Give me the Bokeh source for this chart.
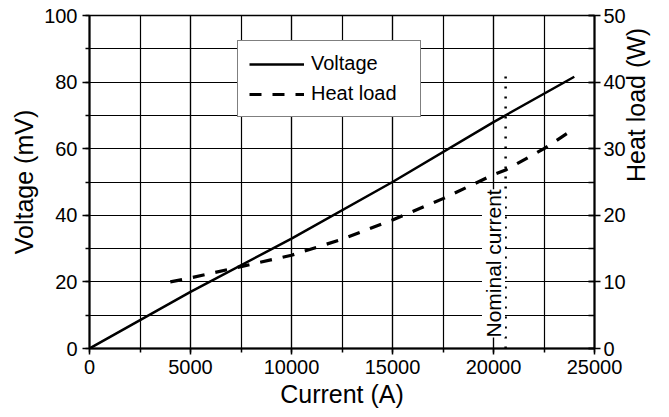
import math
from bokeh.plotting import figure
from bokeh.models import (Range1d, LinearAxis, SingleIntervalTicker, Legend,
                          LegendItem, Label, ColumnDataSource)
from bokeh.embed import file_html
from bokeh.resources import INLINE

# ---- data ----
voltage_current = [0, 5000, 10000, 15000, 20000, 24000]          # A
voltage_mv = [0, 17, 33, 50, 68, 81.6]                             # mV

heat_current = [4000, 5000, 7500, 10000, 12500, 15000, 17500, 20000, 20600, 22500, 23700]  # A
heat_load_w = [10.0, 10.6, 12.3, 14.0, 16.4, 19.3, 22.5, 26.1, 26.8, 30.0, 32.4]        # W

nominal_current = 20600      # A
nominal_marker_top = 84      # mV (top end of the dotted marker)
nominal_text = "Nominal current"
nominal_text_x = 20000
nominal_text_y = 3.3

x_ticks_interval = 5000
y_left_interval = 20
y_right_interval = 10

FONT = "Liberation Sans"

p = figure(width=669, height=417, output_backend="svg", toolbar_location=None,
           x_range=Range1d(0, 25000), y_range=Range1d(0, 100),
           min_border_left=89, min_border_right=75, min_border_top=15,
           min_border_bottom=69)
p.background_fill_color = "white"
p.border_fill_color = "white"
p.outline_line_color = "black"
p.outline_line_width = 1.5

p.extra_y_ranges = {"heat": Range1d(0, 50)}

xt = SingleIntervalTicker(interval=x_ticks_interval, num_minor_ticks=2)
yt = SingleIntervalTicker(interval=y_left_interval, num_minor_ticks=2)
yrt = SingleIntervalTicker(interval=y_right_interval, num_minor_ticks=2)

xaxis = p.xaxis[0]
laxis = p.yaxis[0]
xaxis.ticker = xt
laxis.ticker = yt
p.xgrid.ticker = xt
p.ygrid.ticker = yt

for g in (p.xgrid, p.ygrid):
    g.grid_line_color = "black"
    g.grid_line_width = 1.2
    g.minor_grid_line_color = "black"
    g.minor_grid_line_width = 1.2

right = LinearAxis(y_range_name="heat", ticker=yrt, axis_label="Heat load (W)")
p.add_layout(right, "right")
try:
    right.axis_label_orientation = math.pi / 2
except Exception:
    pass

for ax in (xaxis, laxis, right):
    ax.axis_line_color = "black"
    ax.axis_line_width = 2
    ax.major_tick_line_color = "black"
    ax.minor_tick_line_color = "black"
    ax.major_tick_line_width = 1.5
    ax.minor_tick_line_width = 1.5
    ax.major_label_text_font = FONT
    ax.major_label_text_font_size = "20px"
    ax.major_label_text_color = "black"
    ax.axis_label_text_font = FONT
    ax.axis_label_text_font_size = "25px"
    ax.axis_label_text_font_style = "normal"
    ax.axis_label_text_color = "black"
    ax.major_tick_in = 0
    ax.minor_tick_in = 0

xaxis.axis_label = "Current (A)"
laxis.axis_label = "Voltage (mV)"

xaxis.major_tick_out = 6
xaxis.minor_tick_out = 4
xaxis.major_label_standoff = 5
xaxis.axis_label_standoff = 3

laxis.major_tick_out = 7
laxis.minor_tick_out = 4
laxis.major_label_standoff = 5
laxis.axis_label_standoff = 3

right.major_tick_out = 6
right.major_tick_in = 6
right.minor_tick_out = 0
right.minor_tick_in = 6
right.major_label_standoff = 3
right.axis_label_standoff = 7
right.axis_label_text_baseline = "top"

vsrc = ColumnDataSource(dict(x=voltage_current, y=voltage_mv))
hsrc = ColumnDataSource(dict(x=heat_current, y=heat_load_w))
r_v = p.line("x", "y", source=vsrc, line_color="black", line_width=2.5)
r_h = p.line("x", "y", source=hsrc, line_color="black", line_width=3.2,
             line_dash="12 11", y_range_name="heat")

lab = Label(x=nominal_text_x, y=nominal_text_y, text=nominal_text, angle=90,
            angle_units="deg", text_align="left", text_baseline="middle",
            text_font=FONT, text_font_size="21px", text_color="black",
            background_fill_color="white", background_fill_alpha=1.0)
p.add_layout(lab)

p.line([nominal_current, nominal_current], [0, nominal_marker_top],
       line_color="black", line_width=2.5, line_dash="2 8")

legend = Legend(items=[LegendItem(label="Voltage", renderers=[r_v]),
                       LegendItem(label="Heat load", renderers=[r_h])],
                location=(148, 231), margin=0, padding=11, spacing=7,
                glyph_width=55, glyph_height=22, label_height=22,
                label_width=98, label_standoff=7,
                label_text_font=FONT, label_text_font_size="20px",
                label_text_color="black",
                border_line_color="black", border_line_width=1.5,
                background_fill_color="white", background_fill_alpha=1.0)
p.add_layout(legend, "center")

open("out.html", "w").write(file_html(p, INLINE))
